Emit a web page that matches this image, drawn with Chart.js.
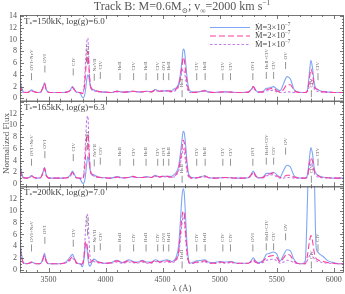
<!DOCTYPE html>
<html><head><meta charset="utf-8">
<script src="https://cdn.jsdelivr.net/npm/chart.js@4.4.1/dist/chart.umd.min.js"></script>
<style>html,body{margin:0;padding:0;background:#fff;}canvas{display:block;}</style>
</head><body><canvas id="c" width="345" height="294" style="width:345px;height:294px"></canvas>
<script>
// ---- wavelength grid (Å) ----
const waves = [3250,3265,3280,3300,3330,3350,3370,3400,3430,3450,
 3465,3480,3510,3560,3620,3660,3690,3710,3725,3745,
 3770,3785,3795,3805,3815,3825,3835,3845,3855,3865,
 3880,3895,3910,3930,3960,4000,4050,4100,4150,4200,
 4240,4280,4320,4360,4400,4440,4470,4500,4540,4580,
 4600,4620,4640,4655,4670,4680,4690,4700,4712,4725,
 4740,4760,4800,4840,4870,4900,4950,5000,5050,5100,
 5150,5200,5250,5275,5295,5315,5340,5380,5410,5440,
 5470,5500,5530,5560,5590,5620,5650,5680,5720,5750,
 5770,5785,5800,5815,5830,5845,5860,5880,5910,5950,
 6000,6050,6090];

// ---- panel 1: T*=150kK ----
const flux150_m3 = [3.0,1.8,1.1,1.0,1.1,1.45,1.15,1.0,1.05,1.8,
 2.6,1.5,1.0,1.0,1.0,1.05,1.4,2.0,1.6,1.05,
 1.0,0.6,0.2,0.1,0.4,1.5,3.2,4.0,3.5,2.2,
 1.4,1.5,1.3,1.25,1.1,1.05,1.0,1.25,1.05,1.1,
 1.2,1.1,1.1,1.2,1.1,1.5,1.2,1.25,1.3,1.3,
 1.6,1.8,2.5,4.0,6.5,8.4,8.2,6.5,4.0,2.0,
 1.3,1.1,1.05,1.2,1.35,1.1,1.0,1.05,1.1,1.05,
 1.0,1.0,1.05,1.5,2.0,1.4,1.05,1.2,1.7,1.8,
 2.0,1.6,1.3,2.5,3.7,3.3,1.6,1.1,1.0,1.0,
 1.5,4.0,6.5,5.0,2.5,1.7,1.5,1.3,1.15,1.05,
 1.0,1.0,1.0];
const flux150_m2 = [2.3,1.5,1.1,1.0,1.1,1.4,1.15,1.0,1.05,1.8,
 2.6,1.5,1.0,1.0,1.0,1.05,1.35,1.9,1.5,1.05,
 1.0,0.9,0.8,1.0,2.0,4.5,7.0,8.0,5.0,2.5,
 1.6,1.5,1.3,1.2,1.1,1.05,1.0,1.2,1.05,1.1,
 1.2,1.1,1.1,1.2,1.1,1.5,1.2,1.25,1.3,1.15,
 1.3,1.6,2.2,3.5,5.5,7.0,6.5,5.0,3.0,1.6,
 1.1,1.0,1.05,1.2,1.3,1.1,1.0,1.05,1.1,1.05,
 1.0,1.0,1.05,1.5,2.0,1.4,1.05,1.1,1.5,1.6,
 1.8,1.3,1.1,1.5,2.3,2.3,1.4,1.05,1.0,1.0,
 1.3,3.0,5.0,4.0,2.0,1.6,1.5,1.2,1.1,1.05,
 1.0,1.0,1.0];
const flux150_m1 = [1.8,1.3,1.0,1.0,1.05,1.3,1.1,1.0,1.05,1.7,
 2.4,1.4,1.0,1.0,1.0,1.05,1.3,1.8,1.4,1.05,
 1.0,1.0,1.0,1.2,3.0,6.5,9.5,10.3,6.0,2.4,
 1.6,1.4,1.2,1.1,1.1,1.05,1.0,1.1,1.05,1.1,
 1.2,1.1,1.1,1.2,1.1,1.3,1.2,1.25,1.2,1.1,
 1.2,1.4,2.0,3.2,4.5,5.0,4.5,3.5,2.0,1.2,
 1.0,1.0,1.05,1.2,1.2,1.1,1.0,1.05,1.1,1.05,
 1.0,1.0,1.05,1.4,1.8,1.3,1.05,1.05,1.3,1.3,
 1.4,1.1,1.0,1.0,1.1,1.1,1.0,1.0,1.0,1.0,
 1.2,2.0,3.2,2.5,1.6,1.3,1.15,1.1,1.05,1.05,
 1.0,1.0,1.0];

// ---- panel 2: T*=165kK ----
const flux165_m3 = [3.2,1.9,1.1,1.0,1.1,1.45,1.15,1.0,1.05,1.9,
 2.8,1.5,1.0,1.0,1.0,1.05,1.5,2.2,1.7,1.05,
 1.0,0.6,0.2,0.1,0.4,1.6,3.5,4.7,3.8,2.3,
 1.5,1.6,1.4,1.25,1.1,1.05,1.0,1.25,1.05,1.1,
 1.3,1.1,1.1,1.25,1.1,1.5,1.2,1.3,1.3,1.3,
 1.6,2.0,3.0,5.0,7.5,9.0,8.7,7.0,4.2,2.0,
 1.3,1.1,1.05,1.25,1.4,1.1,1.0,1.05,1.1,1.05,
 1.0,1.0,1.05,1.6,2.2,1.5,1.05,1.2,1.8,1.8,
 2.0,1.6,1.2,2.3,3.2,2.9,1.5,1.1,1.0,1.0,
 1.6,4.0,6.2,5.0,2.6,1.8,1.5,1.3,1.15,1.05,
 1.0,1.0,1.0];
const flux165_m2 = [2.5,1.6,1.1,1.0,1.1,1.4,1.15,1.0,1.05,1.9,
 2.7,1.5,1.0,1.0,1.0,1.05,1.4,2.0,1.6,1.05,
 1.0,0.9,0.8,1.0,2.2,5.0,8.0,8.5,5.5,2.6,
 1.7,1.5,1.3,1.2,1.1,1.05,1.0,1.2,1.05,1.1,
 1.3,1.1,1.1,1.2,1.1,1.5,1.2,1.3,1.3,1.15,
 1.3,1.7,2.5,4.0,6.0,7.5,7.0,5.5,3.2,1.6,
 1.1,1.0,1.05,1.2,1.35,1.1,1.0,1.05,1.1,1.05,
 1.0,1.0,1.05,1.5,2.1,1.4,1.05,1.1,1.6,1.7,
 1.9,1.4,1.1,1.2,1.5,1.5,1.2,1.05,1.0,1.0,
 1.4,3.2,4.5,3.8,2.2,1.6,1.5,1.2,1.1,1.05,
 1.0,1.0,1.0];
const flux165_m1 = [2.0,1.4,1.0,1.0,1.05,1.3,1.1,1.0,1.05,1.8,
 2.6,1.4,1.0,1.0,1.0,1.05,1.3,1.9,1.5,1.05,
 1.0,1.0,1.0,1.2,3.5,7.5,11.0,11.6,6.5,2.5,
 1.6,1.4,1.2,1.1,1.1,1.05,1.0,1.1,1.05,1.1,
 1.2,1.1,1.1,1.2,1.1,1.3,1.2,1.25,1.2,1.1,
 1.2,1.5,2.2,3.5,5.0,6.0,5.5,4.0,2.3,1.3,
 1.0,1.0,1.05,1.2,1.2,1.1,1.0,1.05,1.1,1.05,
 1.0,1.0,1.05,1.4,1.9,1.3,1.05,1.05,1.4,1.5,
 1.6,1.2,1.0,1.0,1.1,1.1,1.0,1.0,1.0,1.0,
 1.3,2.5,3.6,3.0,1.8,1.4,1.2,1.1,1.05,1.05,
 1.0,1.0,1.0];

// ---- panel 3: T*=200kK ----
const flux200_m3 = [5.0,2.5,1.2,1.05,1.1,1.3,1.15,1.0,1.05,1.9,
 2.8,1.5,1.0,1.0,1.05,1.4,2.2,2.6,2.0,1.2,
 1.0,0.8,0.5,1.0,2.5,4.4,4.0,2.0,0.8,0.6,
 1.2,1.8,1.7,1.4,1.2,1.1,1.2,1.6,1.2,1.7,
 1.4,1.3,1.6,1.3,1.3,1.7,1.4,1.5,1.7,1.4,
 1.6,2.2,4.0,8.0,12.5,13.8,13.0,9.5,5.0,2.0,
 1.1,1.2,1.5,1.6,1.7,1.3,1.2,1.4,1.3,1.4,
 1.1,1.1,1.1,1.5,2.0,1.5,1.2,1.6,2.6,2.8,
 3.0,2.7,1.5,2.5,3.4,3.2,1.8,1.1,1.0,1.5,
 12.0,24.0,28.0,26.0,16.0,4.0,3.0,2.6,2.2,1.5,
 1.2,1.0,1.0];
const flux200_m2 = [3.5,2.0,1.1,1.0,1.1,1.3,1.15,1.0,1.05,1.7,
 2.5,1.4,1.0,1.0,1.05,1.3,1.8,2.2,1.9,1.2,
 1.0,0.9,1.0,1.5,3.0,4.8,4.5,3.0,1.5,1.2,
 1.5,1.6,1.5,1.3,1.2,1.1,1.2,1.5,1.2,1.5,
 1.3,1.2,1.5,1.2,1.2,1.6,1.3,1.4,1.5,1.3,
 1.4,1.8,3.0,6.0,9.0,10.0,9.5,7.0,3.5,1.6,
 1.1,1.1,1.3,1.4,1.5,1.2,1.1,1.3,1.2,1.3,
 1.1,1.1,1.1,1.4,1.7,1.3,1.1,1.4,2.1,2.3,
 2.4,2.1,1.3,2.0,2.6,2.4,1.5,1.1,1.0,1.0,
 2.5,4.5,5.8,4.8,2.8,1.9,1.7,1.5,1.4,1.2,
 1.1,1.0,1.0];
const flux200_m1 = [3.0,1.8,1.1,1.0,1.05,1.2,1.1,1.0,1.05,1.6,
 2.3,1.3,1.0,1.0,1.05,1.2,1.6,1.9,1.7,1.1,
 1.0,1.0,1.0,1.3,3.5,7.0,9.5,9.0,5.0,2.0,
 1.4,1.4,1.3,1.2,1.1,1.05,1.1,1.3,1.1,1.3,
 1.2,1.1,1.3,1.1,1.1,1.4,1.2,1.3,1.3,1.2,
 1.3,1.6,2.6,5.0,7.8,9.0,8.5,6.0,3.0,1.4,
 1.0,1.05,1.2,1.3,1.3,1.1,1.05,1.2,1.1,1.2,
 1.05,1.05,1.05,1.3,1.5,1.2,1.05,1.2,1.6,1.7,
 1.8,1.5,1.1,1.3,1.6,1.5,1.2,1.05,1.0,1.0,
 1.6,2.3,2.8,2.4,1.8,1.5,1.4,1.3,1.2,1.1,
 1.05,1.0,1.0];

// ---- labels ----
const panelTemps = ['150kK, log(g)=6.0', '165kK, log(g)=6.3', '200kK, log(g)=7.0'];
const mdotValues = ['3', '2', '1'];          // Ṁ = n × 10^-7
const xTicks = [3500, 4000, 4500, 5000, 5500, 6000];
const yTicks = [0, 2, 4, 6, 8, 10, 12, 14];
const ionWaves = [3351,3468,3717,3842,3901,3954,4127,4246,4355,4457,4507,4554,4671,4799,4873,5028,5095,5291,5409,5473,5578,5804,5862];
const ionNames = ['OVI+NeV','OVI','CIV','OVI','NeVII','CIV','HeII','CIV','HeII','CIV','OVI','HeII','HeII','CIV','HeII','CIV','CIV','OVI','HeII+CIV','CIV','OV','CIV','CIV'];
const ionMarkY = [3.1,4.4,3.9,5.8,3.0,3.3,3.1,3.1,3.1,3.1,3.1,3.1,0.2,3.1,3.1,3.1,3.1,3.1,3.3,3.3,5.0,0.2,3.1];

const FONT = "'Liberation Serif','DejaVu Serif',serif";
const TXT = '#555';
const colors = ['#7ea6f4', '#ff3c9c', '#c27cf0'];
const dashes = [[], [6, 3], [2.5, 2]];
const panelSeries = [[flux150_m3, flux150_m2, flux150_m1],[flux165_m3, flux165_m2, flux165_m1],[flux200_m3, flux200_m2, flux200_m1]];
const yIds = ['y1', 'y2', 'y3'];

const datasets = [];
panelSeries.forEach((ser, p) => {
  ser.forEach((arr, s) => {
    datasets.push({
      label: 'Ṁ=' + mdotValues[s] + '×10⁻⁷',
      data: waves.map((w, i) => ({x: w, y: arr[i]})),
      yAxisID: yIds[p],
      borderColor: colors[s],
      borderDash: dashes[s],
      borderWidth: 1.1,
      pointRadius: 0,
      fill: false,
      cubicInterpolationMode: 'monotone',
      order: s === 0 ? 3 : (s === 1 ? 1 : 2)
    });
  });
});

function rich(ctx, segs, x, y, size, align) {
  const fnt = m => (m ? size * 0.62 : size) + 'px ' + FONT;
  let total = 0;
  const ws = segs.map(([t, m]) => { ctx.font = fnt(m); const w = ctx.measureText(t).width; total += w; return w; });
  let cx = align === 'center' ? x - total / 2 : x;
  ctx.textAlign = 'left'; ctx.textBaseline = 'middle';
  segs.forEach(([t, m], i) => {
    ctx.font = fnt(m);
    const dy = m === 1 ? size * 0.3 : (m === 2 ? -size * 0.35 : 0);
    ctx.fillText(t, cx, y + dy);
    cx += ws[i];
  });
}

function yScaleOpts(id) {
  return {
    type: 'linear', position: 'left', stack: 'panels', stackWeight: 1,
    min: -0.4, max: 14.2,
    afterFit: s => { s.width = 20; },
    afterBuildTicks: s => { s.ticks = yTicks.filter(v => id === 'y1' || v < 14).map(v => ({value: v})); },
    ticks: { font: {family: FONT, size: 8}, color: TXT, padding: 3, autoSkip: false, callback: v => String(v) },
    grid: { display: false, drawTicks: false },
    border: { display: false }
  };
}

const decor = {
  id: 'decor',
  beforeDatasetDraw(chart, args) {
    const ctx = chart.ctx, ys = args.meta.yScale, ca = chart.chartArea;
    ctx.save(); ctx.beginPath(); ctx.rect(ca.left, ys.top, ca.right - ca.left, ys.bottom - ys.top); ctx.clip();
  },
  afterDatasetDraw(chart) { chart.ctx.restore(); },
  afterDraw(chart) {
    const ctx = chart.ctx, ca = chart.chartArea, xs = chart.scales.x;
    ctx.save();
    ctx.strokeStyle = '#555'; ctx.lineWidth = 0.8; ctx.fillStyle = TXT;
    yIds.forEach((id, p) => {
      const ys = chart.scales[id];
      ctx.strokeRect(ca.left + 0.5, ys.top + 0.5, ca.right - ca.left - 1, ys.bottom - ys.top);
      for (let v = 0; v <= 14.001; v += 0.5) {
        const py = Math.round(ys.getPixelForValue(v)) + 0.5;
        const L = (Math.abs(v % 2) < 1e-6) ? 4 : 2;
        ctx.beginPath();
        ctx.moveTo(ca.left, py); ctx.lineTo(ca.left + L, py);
        ctx.moveTo(ca.right, py); ctx.lineTo(ca.right - L, py);
        ctx.stroke();
      }
      for (let w = 3300; w <= 6090; w += 100) {
        const px = Math.round(xs.getPixelForValue(w)) + 0.5;
        const L = (w % 500 === 0) ? 4 : 2;
        ctx.beginPath();
        ctx.moveTo(px, ys.bottom); ctx.lineTo(px, ys.bottom - L);
        ctx.moveTo(px, ys.top); ctx.lineTo(px, ys.top + L);
        ctx.stroke();
      }
      ctx.lineWidth = 0.7; ctx.strokeStyle = '#666';
      ionWaves.forEach((w, i) => {
        const px = xs.getPixelForValue(w);
        const y0 = ys.getPixelForValue(ionMarkY[i]);
        const y1 = ys.getPixelForValue(ionMarkY[i] + 1.2);
        ctx.beginPath(); ctx.moveTo(px, y0); ctx.lineTo(px, y1); ctx.stroke();
        ctx.save();
        ctx.translate(px, y1 - 2.5); ctx.rotate(-Math.PI / 2);
        ctx.font = '5px ' + FONT; ctx.textAlign = 'left'; ctx.textBaseline = 'middle'; ctx.fillStyle = '#666';
        ctx.fillText(ionNames[i], 0, 0);
        ctx.restore();
      });
      ctx.lineWidth = 0.8; ctx.strokeStyle = '#555';
      ctx.fillStyle = '#444';
      rich(ctx, [['T', 0], ['*', 1], ['=' + panelTemps[p], 0]], ca.left + 4, ys.top + 6.5, 9, 'left');
    });
    const y1s = chart.scales.y1;
    [0, 1, 2].forEach(s => {
      const ly = y1s.top + 12.5 + s * 8.5;
      ctx.save();
      ctx.strokeStyle = colors[s]; ctx.lineWidth = 1.1; ctx.setLineDash(dashes[s]);
      ctx.beginPath(); ctx.moveTo(ca.right - 134, ly); ctx.lineTo(ca.right - 94, ly); ctx.stroke();
      ctx.restore();
      ctx.fillStyle = '#444';
      rich(ctx, [['Ṁ=' + mdotValues[s] + '×10', 0], ['−7', 2]], ca.right - 89, ly, 8.5, 'left');
    });
    ctx.fillStyle = '#555';
    rich(ctx, [['Track B: M=0.6M', 0], ['⊙', 1], ['; v', 0], ['∞', 1], ['=2000 km s', 0], ['−1', 2]], (ca.left + ca.right) / 2, 7, 12, 'center');
    ctx.font = '9px ' + FONT; ctx.textAlign = 'center'; ctx.textBaseline = 'middle';
    ctx.fillText('λ (Å)', (ca.left + ca.right) / 2, ca.bottom + 17);
    const y2s = chart.scales.y2;
    ctx.save(); ctx.translate(6.5, (y2s.top + y2s.bottom) / 2); ctx.rotate(-Math.PI / 2);
    ctx.fillText('Normalized Flux', 0, 0); ctx.restore();
    ctx.restore();
  }
};

new Chart(document.getElementById('c'), {
  type: 'line',
  data: { datasets },
  options: {
    responsive: false, animation: false, devicePixelRatio: 1,
    layout: { padding: { top: 15, right: 1, left: 0, bottom: 0 } },
    plugins: { legend: { display: false }, tooltip: { enabled: false }, title: { display: false } },
    scales: {
      x: {
        type: 'linear', position: 'bottom', min: 3250, max: 6090,
        afterFit: s => { s.height = 22; },
        afterBuildTicks: s => { s.ticks = xTicks.map(v => ({value: v})); },
        ticks: { font: {family: FONT, size: 8}, color: TXT, padding: 3, maxRotation: 0, autoSkip: false, callback: v => String(v) },
        grid: { display: false, drawTicks: false },
        border: { display: false }
      },
      y3: yScaleOpts('y3'),
      y2: yScaleOpts('y2'),
      y1: yScaleOpts('y1')
    }
  },
  plugins: [decor]
});
</script>
</body></html>
